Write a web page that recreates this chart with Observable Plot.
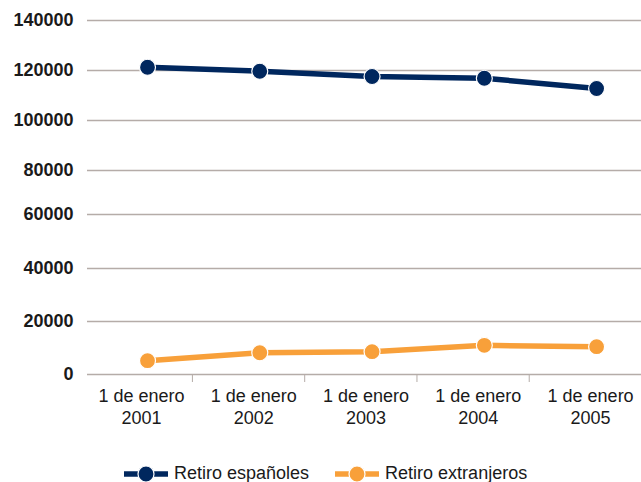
<!DOCTYPE html>
<html>
<head>
<meta charset="utf-8">
<script src="https://cdn.jsdelivr.net/npm/d3@7"></script>
<script src="https://cdn.jsdelivr.net/npm/@observablehq/plot@0.6"></script>
<style>
  body { margin: 0; background: #fff; font-family: "Liberation Sans", sans-serif; }
  #chart { position: relative; width: 641px; }
  .legend { display: flex; gap: 26px; margin-left: 124px; margin-top: 13px; font-size: 18px; color: #1a1a1a; align-items: center; }
  .legend .item { display: flex; align-items: center; gap: 6px; }
</style>
</head>
<body>
<div id="chart"></div>
<script>
const years = [2001, 2002, 2003, 2004, 2005];
const espanoles = [121300, 119700, 117600, 116900, 112800];
const extranjeros = [5200, 8200, 8600, 11000, 10500];
const seriesNames = ["Retiro españoles", "Retiro extranjeros"];
const seriesColors = ["#00275e", "#f8a03a"];
const yTicks = [0, 20000, 40000, 60000, 80000, 100000, 120000, 140000];
// pixel positions of the (unevenly spaced) gridlines in the reference
const yTickPixels = [374, 321, 268, 214, 170, 120, 70, 20];

const data = [
  ...years.map((y, i) => ({year: y, value: espanoles[i], serie: seriesNames[0]})),
  ...years.map((y, i) => ({year: y, value: extranjeros[i], serie: seriesNames[1]}))
];
const separators = years.slice(0, -1).map(y => y + 0.4);

const plot = Plot.plot({
  width: 641,
  height: 450,
  marginLeft: 87,
  marginRight: 0,
  marginTop: 20,
  marginBottom: 76,
  style: {fontFamily: '"Liberation Sans", sans-serif', fontSize: "18px", color: "#1a1a1a", background: "#fff"},
  x: {type: "linear", domain: [2000.4655, 2005.4]},
  y: {type: "linear", domain: yTicks, range: yTickPixels},
  color: {domain: seriesNames, range: seriesColors},
  marks: [
    Plot.ruleY(yTicks.filter(d => d > 0), {stroke: "#b5aca8", strokeWidth: 1.5, strokeOpacity: 1}),
    Plot.ruleY([0], {stroke: "#b5aca8", strokeWidth: 1.5}),
    Plot.axisY({ticks: yTicks, tickSize: 0, tickPadding: 14, tickFormat: d => String(d), fontSize: 18, fontWeight: "bold", label: null}),
    Plot.axisX({ticks: separators, tickSize: 8, tickFormat: () => "", stroke: "#b5aca8", label: null}),
    Plot.axisX({ticks: years, tickSize: 0, tickPadding: 12, dx: -6, tickFormat: d => "1 de enero\n" + d, fontSize: 18, lineHeight: 1.22, label: null}),
    Plot.line(data, {x: "year", y: "value", z: "serie", stroke: "serie", strokeWidth: 5.5}),
    Plot.dot(data, {x: "year", y: "value", fill: "serie", r: 8, stroke: "#fff", strokeWidth: 1.2})
  ]
});
document.getElementById("chart").appendChild(plot);

const legend = d3.select("#chart").append("div").attr("class", "legend");
seriesNames.forEach((name, i) => {
  const item = legend.append("div").attr("class", "item");
  const svg = item.append("svg").attr("width", 44).attr("height", 18);
  svg.append("line").attr("x1", 1).attr("x2", 43).attr("y1", 9).attr("y2", 9)
    .attr("stroke", seriesColors[i]).attr("stroke-width", 5.5).attr("stroke-linecap", "round");
  svg.append("circle").attr("cx", 22).attr("cy", 9).attr("r", 8).attr("fill", seriesColors[i]).attr("stroke", "#fff").attr("stroke-width", 1.2);
  item.append("span").text(name);
});
</script>
</body>
</html>
